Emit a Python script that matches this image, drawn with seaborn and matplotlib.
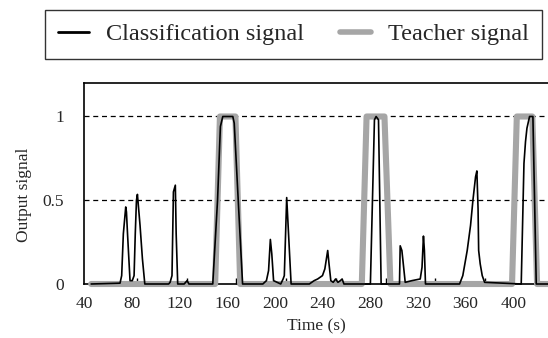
import matplotlib
matplotlib.use("Agg")
import matplotlib.pyplot as plt
import seaborn as sns
import numpy as np

# ---- data ----
cls_time = [46, 70.2, 71.6, 73, 75, 75.6, 76.5, 78.6, 80.5, 82, 83, 84, 84.8, 87, 89, 91,
            111, 112.2, 113.8, 115, 116.6, 117.3, 118.6, 124, 126.5, 128,
            148, 152, 154.4, 156.4, 164.8, 166, 173,
            190, 193, 194.8, 196.3, 197.5, 199, 205, 207, 208, 210, 213.7,
            229, 233, 236, 238, 240, 242, 244.4, 245.5, 247, 249, 251, 253, 255, 256.5, 258,
            280.2, 283.6, 285, 287, 289.2,
            304.6, 305.2, 306.6, 307.5, 309.4, 315, 322, 323.5, 324.7, 325.5, 326.4,
            355, 357.7, 361.4, 364.2, 366.2, 368.4, 369.5, 370.5, 371, 372.3, 374, 376,
            406.7, 409, 410.3, 411.5, 413.7, 416.5, 419.3, 430]
cls_value = [0.0, 0.005, 0.05, 0.3, 0.46, 0.43, 0.3, 0.02, 0.02, 0.05, 0.3, 0.5, 0.535, 0.35, 0.15, 0.0,
             0.0, 0.01, 0.05, 0.55, 0.59, 0.3, 0.0, 0.0, 0.02, 0.0,
             0.0, 0.5, 0.94, 1.0, 1.0, 0.96, 0.0,
             0.0, 0.02, 0.08, 0.266, 0.18, 0.02, 0.0, 0.03, 0.05, 0.516, 0.0,
             0.0, 0.02, 0.03, 0.04, 0.05, 0.09, 0.2, 0.12, 0.02, 0.01, 0.03, 0.01, 0.02, 0.03, 0.0,
             0.0, 0.98, 1.0, 0.98, 0.0,
             0.0, 0.228, 0.2, 0.14, 0.01, 0.02, 0.03, 0.1, 0.286, 0.2, 0.0,
             0.0, 0.05, 0.2, 0.35, 0.5, 0.64, 0.675, 0.45, 0.2, 0.12, 0.05, 0.01,
             0.0, 0.72, 0.85, 0.93, 1.0, 1.0, 0.0, 0.0]

teach_time = [46, 150, 154, 167, 171, 273, 277, 292, 297, 399, 403, 416, 420, 430]
teach_value = [0, 0, 1, 1, 0, 0, 1, 1, 0, 0, 1, 1, 0, 0]

x_ticks = [40, 80, 120, 160, 200, 240, 280, 320, 360, 400]
x_minor_ticks = [84.5, 126.2, 167.9, 209.6, 251.3, 293, 334.7, 376.4, 418.1]
y_ticks = [0, 0.5, 1]
y_tick_labels = ["0", "0.5", "1"]

# ---- style ----
sns.set_theme(style="white")
plt.rcParams['font.family'] = ['Liberation Serif', 'DejaVu Serif']

fig = plt.figure(figsize=(5.48, 3.38), dpi=100)
ax = fig.add_axes([84/548, 54/338, 465/548, 201/338])

for yv in [0.5, 1.0]:
    ax.axhline(yv, color="black", linestyle=(0, (4, 3)), linewidth=0.9, zorder=1)

sns.lineplot(x=teach_time, y=teach_value, ax=ax, color="#a6a6a6", linewidth=4.4,
             estimator=None, sort=False, label="Teacher signal", zorder=3, clip_on=False)
sns.lineplot(x=cls_time, y=cls_value, ax=ax, color="black", linewidth=1.2,
             estimator=None, sort=False, label="Classification signal", zorder=4, clip_on=False)

ax.set_xlim(40, 430)
ax.set_ylim(0, 1.2)
ax.set_xticks(x_ticks)
ax.set_xticklabels([str(v) for v in x_ticks], fontsize=12.5)
ax.set_xticks(x_minor_ticks, minor=True)
ax.set_yticks(y_ticks)
ax.set_yticklabels(y_tick_labels, fontsize=12.5)
ax.tick_params(axis='x', which='major', length=0, pad=9)
ax.tick_params(axis='y', which='major', length=0, pad=14.5)
ax.tick_params(axis='x', which='minor', direction='in', length=4, width=1.0, color='black', bottom=True)
ax.set_xlabel("Time (s)", fontsize=12.5, labelpad=4)
ax.set_ylabel("Output signal", fontsize=12.5)
ax.yaxis.set_label_coords(-0.111, 0.443)

for s in ["left", "bottom", "top"]:
    ax.spines[s].set_visible(True)
    ax.spines[s].set_color("black")
    ax.spines[s].set_linewidth(1.2)
ax.spines["right"].set_visible(False)

handles, labels = ax.get_legend_handles_labels()
ax.legend_.remove()
order = [labels.index("Classification signal"), labels.index("Teacher signal")]
leg = fig.legend([handles[i] for i in order], [labels[i] for i in order],
                 loc="upper left", bbox_to_anchor=(45/548, 1 - 10/338), ncol=2,
                 frameon=True, fancybox=False, edgecolor="black", fontsize=17.5,
                 handlelength=1.25, handletextpad=0.7, columnspacing=1.5,
                 borderpad=0.55, borderaxespad=0)
leg.get_frame().set_linewidth(1.0)
leg.legend_handles[0].set_linewidth(2.0)
leg.legend_handles[1].set_linewidth(4.0)

fig.savefig("out.png", dpi=100)
